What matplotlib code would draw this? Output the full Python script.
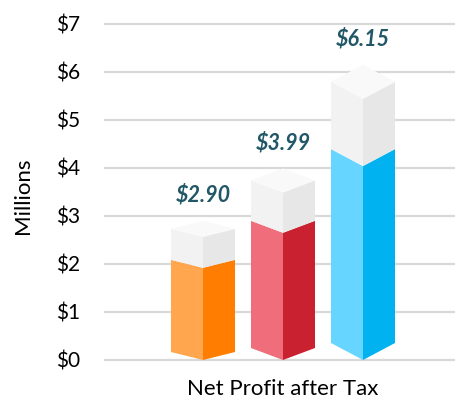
import matplotlib
matplotlib.use("Agg")
import matplotlib.pyplot as plt

# ---- data ----
categories = ["Bar 1", "Bar 2", "Bar 3"]
values = [2.90, 3.99, 6.15]               # total (top of pillar)
colored_front = [1.92, 2.65, 4.04]        # height of coloured part at front edge
value_labels = ["$2.90", "$3.99", "$6.15"]
y_ticks = [0, 1, 2, 3, 4, 5, 6, 7]
y_tick_labels = ["$0", "$1", "$2", "$3", "$4", "$5", "$6", "$7"]
x_label = "Net Profit after Tax"
y_label = "Millions"

# ---- style ----
left_colors = ["#FFA64F", "#F06D7B", "#66D5FF"]
right_colors = ["#FF7D00", "#C9212F", "#00B3F0"]
top_face = "#F9F9F9"
grey_left = "#F2F2F2"
grey_right = "#E7E7E7"
label_color = "#215767"
grid_color = "#D9D9D9"
depth_px = [8, 12, 17]   # isometric depth per pillar (pixels)
half_w = 0.4             # half pillar width in x units
font = ["Lato", "DejaVu Sans"]

W, H = 455, 405
fig = plt.figure(figsize=(W / 100, H / 100), dpi=100)
ax_left, ax_right, ax_top, ax_bot = 104, 455, 10, 370
ax = fig.add_axes([ax_left / W, 1 - ax_bot / H, (ax_right - ax_left) / W, (ax_bot - ax_top) / H])
px_per_unit = 48.0
ax.set_ylim((360 - ax_bot) / px_per_unit, (360 - ax_top) / px_per_unit)
ax.set_xlim((ax_left - 203) / 80.0, (ax_right - 203) / 80.0)

for s in ax.spines.values():
    s.set_visible(False)
ax.set_xticks([])
ax.set_yticks(y_ticks)
ax.set_yticklabels(y_tick_labels, fontfamily=font, fontsize=15)
ax.tick_params(axis="y", length=0, pad=17)
for t in y_ticks:
    ax.axhline(t, color=grid_color, lw=1.6, zorder=0)

for i, (v, c) in enumerate(zip(values, colored_front)):
    x = i
    d = depth_px[i] / px_per_unit
    w = half_w
    # coloured lower faces
    ax.fill([x - w, x, x, x - w], [c + d, c, 0, d], color=left_colors[i], lw=0, zorder=2)
    ax.fill([x, x + w, x + w, x], [c, c + d, d, 0], color=right_colors[i], lw=0, zorder=2)
    # grey upper faces
    ax.fill([x - w, x, x, x - w], [v - d, v - 2 * d, c, c + d], color=grey_left, lw=0, zorder=2)
    ax.fill([x, x + w, x + w, x], [v - 2 * d, v - d, c + d, c], color=grey_right, lw=0, zorder=2)
    # top face
    ax.fill([x, x - w, x, x + w], [v, v - d, v - 2 * d, v - d], color=top_face, lw=0, zorder=2)
    ax.text(x, v + 26 / px_per_unit, value_labels[i], ha="center", va="center",
            fontsize=15.5, fontweight="bold", fontstyle="italic", color=label_color,
            fontfamily=font, zorder=3)

fig.text(283 / W, 1 - 389 / H, x_label, ha="center", va="center", fontsize=16, fontfamily=font)
fig.text(23 / W, 1 - 196 / H, y_label, ha="center", va="center", rotation=90, fontsize=16, fontfamily=font)

fig.savefig("out.png", dpi=100)
